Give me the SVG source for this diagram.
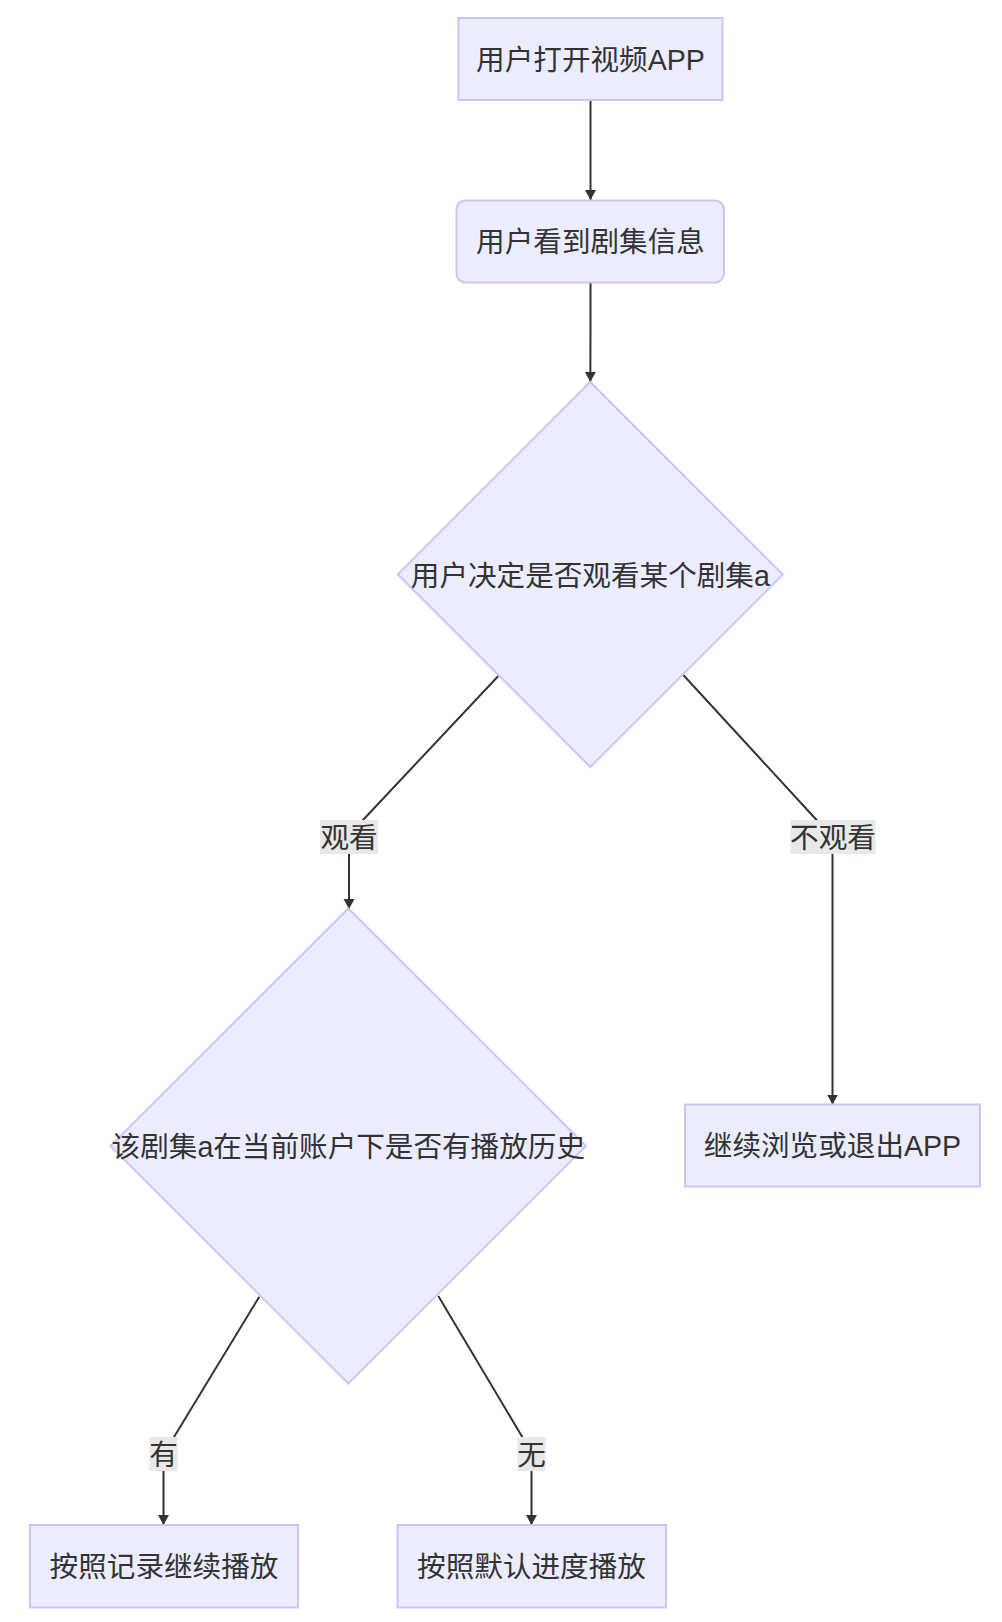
<svg xmlns="http://www.w3.org/2000/svg" width="1002" height="1622" viewBox="0 0 1002 1622">
<style>
  .node { fill: #ECECFF; stroke: #C9C6F7; stroke-width: 2; }
  .lbl { font-family: "Liberation Sans", "Noto Sans CJK SC", sans-serif; font-size: 28.6px; fill: #333333; text-anchor: middle; dominant-baseline: central; }
  .edge { fill: none; stroke: #333333; stroke-width: 2; }
  .elbg { fill: #E8E8E8; stroke: none; }
</style>
<defs>
  <marker id="arrow" markerUnits="userSpaceOnUse" markerWidth="12" markerHeight="12" refX="10" refY="5.5" orient="auto">
    <path d="M0,0 L10,5.5 L0,11 z" fill="#333333"/>
  </marker>
</defs>
<rect width="1002" height="1622" fill="#FFFFFF"/>
<g id="connectors">
  <path class="edge" d="M590.5,100 L590.5,200" marker-end="url(#arrow)"/>
  <path class="edge" d="M590.5,283 L590.5,330 Q590.5,350 590.3,382" marker-end="url(#arrow)"/>
  <path class="edge" d="M498.3,676 L363,820 Q349,835 349,850 L349,909" marker-end="url(#arrow)"/>
  <path class="edge" d="M683.3,675 L816.6,820 Q832.5,837 832.5,854 L832.5,1104.5" marker-end="url(#arrow)"/>
  <path class="edge" d="M259.3,1296.7 L174,1437 Q163.5,1454 163.5,1470 L163.5,1525" marker-end="url(#arrow)"/>
  <path class="edge" d="M438.3,1296 L522.3,1437 Q531.5,1452 531.5,1470 L531.5,1525" marker-end="url(#arrow)"/>
</g>
<g id="edgeLabels">
  <g id="label-watch">
    <rect class="elbg" x="320" y="820" width="58" height="34"/>
    <text class="lbl" x="349" y="838">观看</text>
  </g>
  <g id="label-nowatch">
    <rect class="elbg" x="790.5" y="820" width="85" height="34"/>
    <text class="lbl" x="833" y="838">不观看</text>
  </g>
  <g id="label-yes">
    <rect class="elbg" x="149.5" y="1437" width="28" height="34"/>
    <text class="lbl" x="163.5" y="1455">有</text>
  </g>
  <g id="label-no">
    <rect class="elbg" x="517.5" y="1437" width="28" height="34"/>
    <text class="lbl" x="531.5" y="1455">无</text>
  </g>
</g>
<g id="node-open">
  <rect class="node" x="458.5" y="18" width="264" height="82"/>
  <text class="lbl" x="590.5" y="60">用户打开视频APP</text>
</g>
<g id="node-see">
  <rect class="node" x="456.5" y="200.5" width="267.5" height="82" rx="9" ry="9"/>
  <text class="lbl" x="590.5" y="242">用户看到剧集信息</text>
</g>
<g id="node-decide">
  <polygon class="node" points="590.3,382 782.8,574.5 590.3,767 397.8,574.5"/>
  <text class="lbl" x="590.3" y="576">用户决定是否观看某个剧集a</text>
</g>
<g id="node-history">
  <polygon class="node" points="348.3,908.5 586,1146 348.3,1383.5 110.5,1146"/>
  <text class="lbl" x="348.3" y="1147">该剧集a在当前账户下是否有播放历史</text>
</g>
<g id="node-exit">
  <rect class="node" x="685" y="1104.5" width="295" height="82"/>
  <text class="lbl" x="832.5" y="1146">继续浏览或退出APP</text>
</g>
<g id="node-resume">
  <rect class="node" x="30" y="1525" width="268" height="82.5"/>
  <text class="lbl" x="164" y="1567">按照记录继续播放</text>
</g>
<g id="node-default">
  <rect class="node" x="397.5" y="1525" width="268.5" height="82.5"/>
  <text class="lbl" x="531.5" y="1567">按照默认进度播放</text>
</g>
</svg>
